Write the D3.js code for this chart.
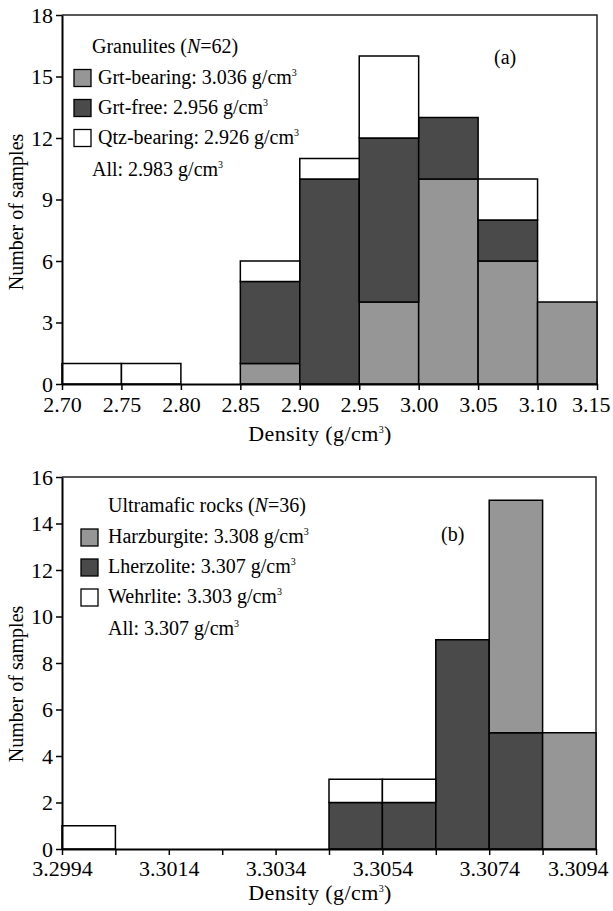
<!DOCTYPE html>
<html>
<head>
<meta charset="utf-8">
<script src="https://cdn.jsdelivr.net/npm/d3@7"></script>
<style>
  body { margin: 0; background: #fff; }
  text { font-family: "Liberation Serif", "Times New Roman", serif; font-size: 20px; fill: #000; }
  .tick text { font-size: 22px; }
  .axis-label { font-size: 22px; letter-spacing: 0.4px; }
</style>
</head>
<body>
<svg id="chart" width="613" height="911"></svg>
<script>
// ---- panel (a): granulites ----
var binStartA = [2.70, 2.75, 2.80, 2.85, 2.90, 2.95, 3.00, 3.05, 3.10];
var grtBearing = [0, 0, 0, 1, 0, 4, 10, 6, 4];
var grtFree    = [0, 0, 0, 4, 10, 8, 3, 2, 0];
var qtzBearing = [1, 1, 0, 1, 1, 4, 0, 2, 0];
var xTicksA = [2.70, 2.75, 2.80, 2.85, 2.90, 2.95, 3.00, 3.05, 3.10, 3.15];
var yTicksA = [0, 3, 6, 9, 12, 15, 18];
var seriesNamesA = ["Grt-bearing", "Grt-free", "Qtz-bearing"];
var meanDensityA = ["3.036", "2.956", "2.926"];
var allDensityA = "2.983";

// ---- panel (b): ultramafic rocks ----
var binStartB = [3.2994, 3.3004, 3.3014, 3.3024, 3.3034, 3.3044, 3.3054, 3.3064, 3.3074, 3.3084];
var harzburgite = [0, 0, 0, 0, 0, 0, 0, 0, 10, 5];
var lherzolite  = [0, 0, 0, 0, 0, 2, 2, 9, 5, 0];
var wehrlite    = [1, 0, 0, 0, 0, 1, 1, 0, 0, 0];
var xTicksB = [3.2994, 3.3004, 3.3014, 3.3024, 3.3034, 3.3044, 3.3054, 3.3064, 3.3074, 3.3084, 3.3094];
var xLabelsB = ["3.2994", "3.3014", "3.3034", "3.3054", "3.3074", "3.3094"];
var yTicksB = [0, 2, 4, 6, 8, 10, 12, 14, 16];
var seriesNamesB = ["Harzburgite", "Lherzolite", "Wehrlite"];
var meanDensityB = ["3.308", "3.307", "3.303"];
var allDensityB = "3.307";

var svg = d3.select("#chart");
svg.append("rect").attr("width", 613).attr("height", 911).attr("fill", "#fff");

// text with a small raised "3" after "g/cm"
function cubed(sel, before, after) {
  sel.append("tspan").text(before);
  sel.append("tspan").attr("font-size", 10).attr("dy", -8).text("3");
  if (after) sel.append("tspan").attr("dy", 8).text(after);
}

function drawPanel(o) {
  var g = svg.append("g");
  var x = d3.scaleLinear().domain([o.xTicks[0], o.xTicks[o.xTicks.length - 1]]).range([62, o.right]);
  var y = d3.scaleLinear().domain([0, o.yTicks[o.yTicks.length - 1]]).range([o.bottom, o.top]);

  var rows = o.bins.map(function(b, i) {
    var r = { x0: b };
    o.names.forEach(function(n, j) { r[n] = o.series[j][i]; });
    return r;
  });
  var stacked = d3.stack().keys(o.stackOrder)(rows);

  // frame: top and right
  g.append("path")
    .attr("d", "M62," + o.top + "H" + o.right + "V" + o.bottom)
    .attr("fill", "none").attr("stroke", "#222").attr("stroke-width", 1.5);

  stacked.forEach(function(layer) {
    g.selectAll(null)
      .data(layer.filter(function(d) { return d[1] > d[0]; }))
      .enter().append("rect")
        .attr("x", function(d) { return x(d.data.x0); })
        .attr("width", function(d) { return x(d.data.x0 + o.binWidth) - x(d.data.x0); })
        .attr("y", function(d) { return y(d[1]); })
        .attr("height", function(d) { return y(d[0]) - y(d[1]); })
        .attr("fill", o.colors[o.names.indexOf(layer.key)])
        .attr("stroke", "#000")
        .attr("stroke-width", 1.5);
  });

  var xAxis = g.append("g")
    .attr("transform", "translate(0," + o.bottom + ")")
    .call(d3.axisBottom(x).tickValues(o.xTicks).tickSize(6).tickSizeOuter(0).tickPadding(o.xPad)
      .tickFormat(function(d) {
        var s = d.toFixed(o.decimals);
        return o.xLabels.indexOf(s) >= 0 ? s : "";
      }));
  xAxis.select(".domain").attr("stroke-width", 2);
  xAxis.selectAll(".tick line").attr("stroke-width", 1.5);
  xAxis.selectAll(".tick text").attr("font-size", null).attr("font-family", null)
    .filter(function(d, i) { return i === o.xTicks.length - 1; })
    .attr("text-anchor", "end").attr("x", o.lastShift);

  var yAxis = g.append("g")
    .attr("transform", "translate(62,0)")
    .call(d3.axisLeft(y).tickValues(o.yTicks).tickSize(6).tickSizeOuter(0).tickPadding(3));
  yAxis.select(".domain").attr("stroke-width", 2);
  yAxis.selectAll(".tick line").attr("stroke-width", 1.5);
  yAxis.selectAll(".tick text").attr("font-size", null).attr("font-family", null);

  cubed(g.append("text").attr("class", "axis-label")
      .attr("x", 320).attr("y", o.xLabelY).attr("text-anchor", "middle"),
    "Density (g/cm", ")");

  g.append("text")
    .attr("transform", "translate(23," + o.yLabelMid + ") rotate(-90)")
    .attr("text-anchor", "middle")
    .text("Number of samples");

  // legend
  var title = g.append("text").attr("x", o.titleX).attr("y", o.titleY);
  title.append("tspan").text(o.title + " (");
  title.append("tspan").attr("font-style", "italic").text("N");
  title.append("tspan").text("=" + o.n + ")");

  o.names.forEach(function(n, i) {
    var top = o.swatchTop + i * 30;
    g.append("rect")
      .attr("x", o.swatchX).attr("y", top).attr("width", 17).attr("height", 17)
      .attr("fill", o.colors[i]).attr("stroke", "#000").attr("stroke-width", 1.3);
    cubed(g.append("text").attr("x", o.textX).attr("y", top + 14), n + ": " + o.means[i] + " g/cm");
  });
  cubed(g.append("text").attr("x", o.allX).attr("y", o.allY), "All: " + o.all + " g/cm");

  g.append("text").attr("x", o.tagX).attr("y", o.tagY).attr("font-size", 22).text(o.tag);
}

drawPanel({
  bins: binStartA, binWidth: 0.05, series: [grtBearing, grtFree, qtzBearing],
  names: seriesNamesA, stackOrder: ["Grt-bearing", "Grt-free", "Qtz-bearing"],
  colors: ["#969696", "#4a4a4a", "#ffffff"],
  xTicks: xTicksA, xLabels: xTicksA.map(function(d) { return d.toFixed(2); }), decimals: 2,
  yTicks: yTicksA, top: 15, bottom: 384, right: 597, xPad: 6.5, lastShift: 13,
  xLabelY: 441, yLabelMid: 212,
  title: "Granulites", n: 62, titleX: 92, titleY: 53,
  swatchX: 74, swatchTop: 69.5, textX: 98, means: meanDensityA,
  all: allDensityA, allX: 92, allY: 176,
  tag: "(a)", tagX: 494, tagY: 64
});

drawPanel({
  bins: binStartB, binWidth: 0.001, series: [harzburgite, lherzolite, wehrlite],
  names: seriesNamesB, stackOrder: ["Lherzolite", "Harzburgite", "Wehrlite"],
  colors: ["#969696", "#4a4a4a", "#ffffff"],
  xTicks: xTicksB, xLabels: xLabelsB, decimals: 4,
  yTicks: yTicksB, top: 477, bottom: 849, right: 596, xPad: 5.5, lastShift: 12,
  xLabelY: 900, yLabelMid: 684,
  title: "Ultramafic rocks", n: 36, titleX: 108, titleY: 512,
  swatchX: 81, swatchTop: 529, textX: 108, means: meanDensityB,
  all: allDensityB, allX: 108, allY: 635,
  tag: "(b)", tagX: 441, tagY: 541
});
</script>
</body>
</html>
